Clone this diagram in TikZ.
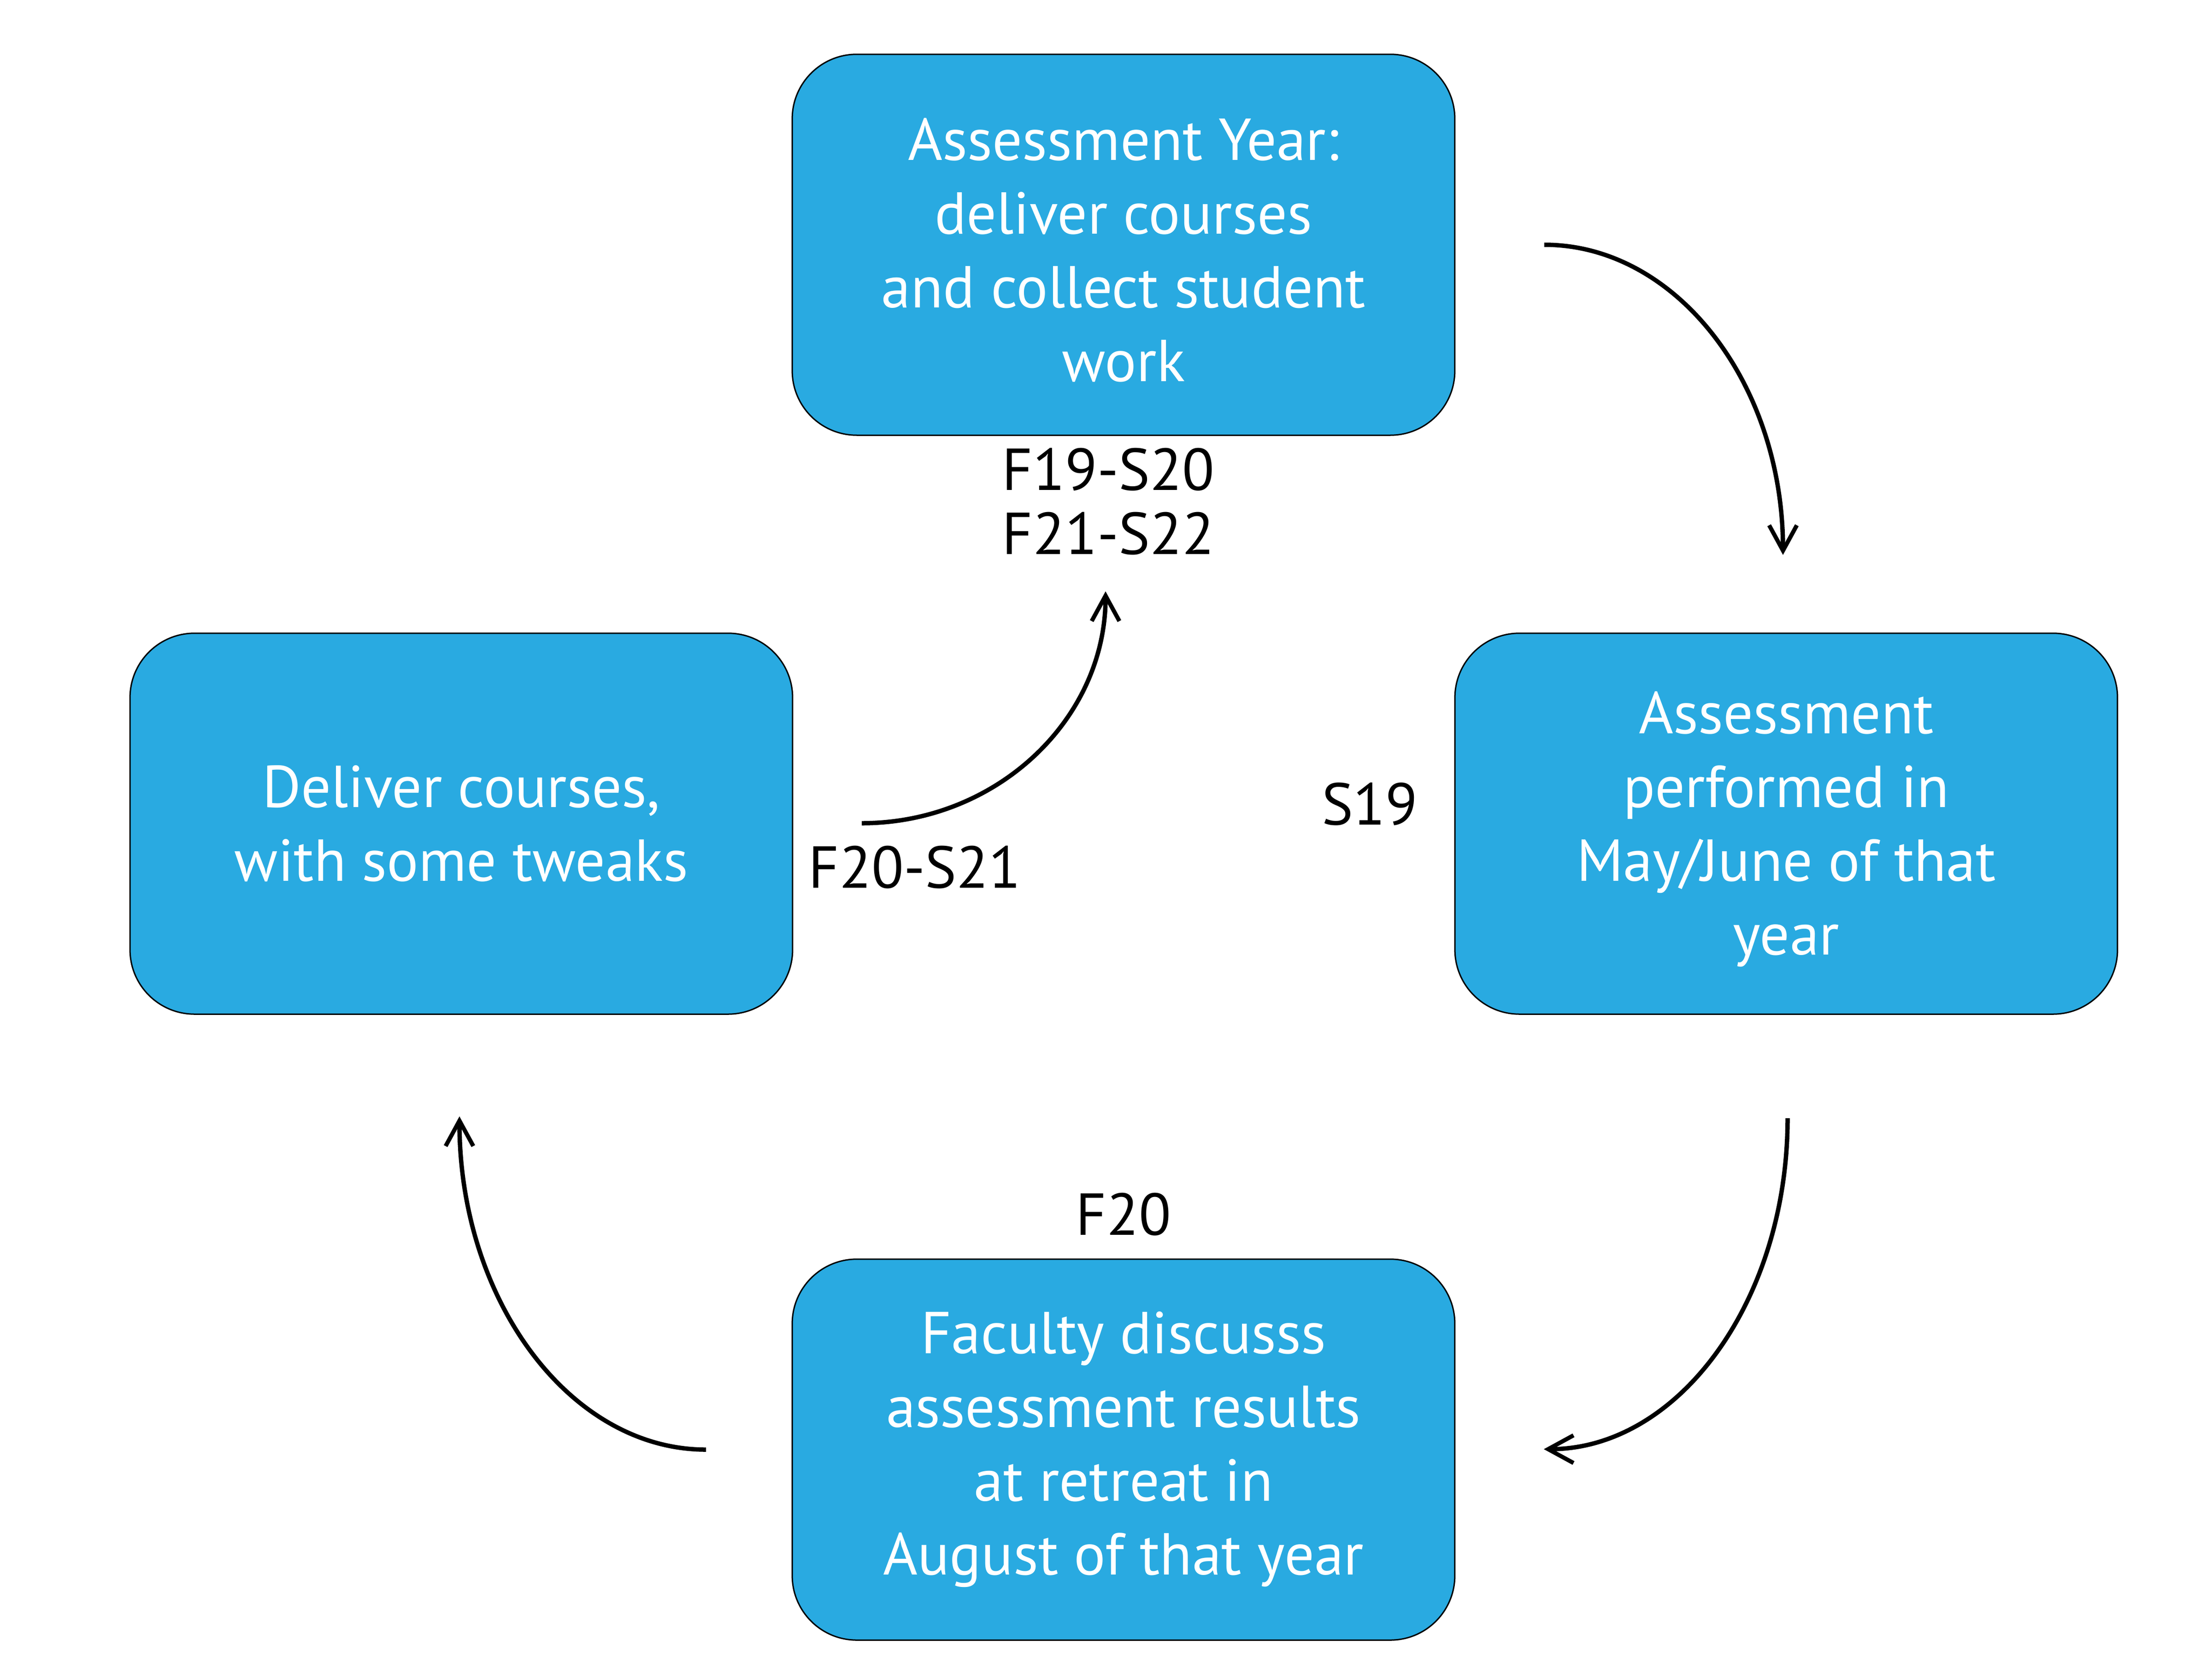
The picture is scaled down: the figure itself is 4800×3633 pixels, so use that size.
\documentclass[tikz,border=0pt]{standalone}
\usepackage{fontspec}
\setmainfont{PT Sans}
\usetikzlibrary{arrows.meta}
\definecolor{boxblue}{RGB}{41,170,225}
\newcommand{\lowerstrut}{\rule{0pt}{1.15cm}}
\begin{document}
\begin{tikzpicture}[x=0.01cm,y=-0.01cm,
  stage/.style={rectangle, rounded corners=1.4cm, minimum width=14.37cm,
    minimum height=8.26cm, inner sep=0pt, fill=boxblue, draw=black,
    line width=0.03cm, text=white, align=center,
    font=\fontsize{36.5}{45.5}\selectfont},
  lbl/.style={inner sep=0pt, text=black, align=center,
    font=\fontsize{36.5}{39.3}\selectfont},
  flow/.style={line width=0.095cm, -{Straight Barb[length=0.55cm, width=0.6cm, line width=0.09cm]}}]
\useasboundingbox (0,0) rectangle (4800,3633);
\node[stage] (top) at (2438,531) {\lowerstrut Assessment Year:\\deliver courses\\and collect student\\work};
\node[stage] (right) at (3876,1787) {\lowerstrut Assessment\\performed in\\May/June of that\\year};
\node[stage] (bottom) at (2438,3145) {Faculty discusss\\assessment results\\at retreat in\\August of that year};
\node[stage] (left) at (1001,1787) {Deliver courses,\\with some tweaks};
\node[lbl, anchor=base] (lyear) at (2405,1202) {F19-S20\\F21-S22};
\node[lbl, anchor=base] (ls19) at (2972,1789) {S19};
\node[lbl, anchor=base] (lf20s21) at (1985,1926) {F20-S21};
\node[lbl, anchor=base] (lf20) at (2438,2679) {F20};
\coordinate (a1s) at (3351,531);
\coordinate (a1e) at (3869,1204);
\coordinate (a2s) at (3879,2426);
\coordinate (a2e) at (3350,3144);
\coordinate (a3s) at (1532,3145);
\coordinate (a3e) at (997,2422);
\coordinate (a4s) at (1870,1786);
\coordinate (a4e) at (2399,1283);
\draw[flow] (a1s) .. controls (3637,531) and (3869,832) .. (a1e);
\draw[flow] (a2s) .. controls (3879,2822) and (3642,3144) .. (a2e);
\draw[flow] (a3s) .. controls (1237,3145) and (997,2821) .. (a3e);
\draw[flow] (a4s) .. controls (2162,1786) and (2399,1561) .. (a4e);
\end{tikzpicture}
\end{document}
